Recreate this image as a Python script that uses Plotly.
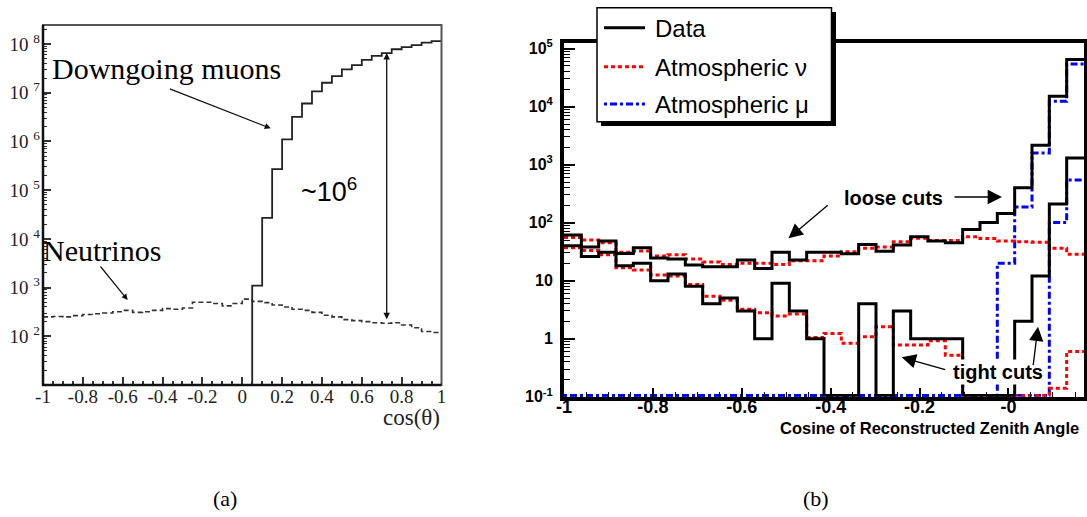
import math
import plotly.graph_objects as go

W, H = 1087, 517

# ---------------- Panel (a) data ----------------
a_edges = [round(-1 + 0.05 * i, 2) for i in range(41)]
a_muons = [0] * 21 + [1.1e3, 2.7e4, 2.7e5, 1.1e6, 3.2e6, 6.0e6, 1.07e7, 1.6e7, 2.2e7, 3.0e7,
                      3.7e7, 4.7e7, 5.7e7, 6.5e7, 7.8e7, 8.6e7, 9.5e7, 1.07e8, 1.15e8]
a_neutrinos = [250, 255, 250, 265, 280, 290, 300, 320, 340, 310,
               320, 340, 370, 360, 380, 500, 500, 470, 420, 470,
               580, 520, 490, 440, 400, 360, 340, 310, 270, 250,
               220, 210, 200, 190, 185, 190, 170, 150, 125, 120]
a_xtick_vals = [-1, -0.8, -0.6, -0.4, -0.2, 0, 0.2, 0.4, 0.6, 0.8, 1]
a_xtick_text = ["-1", "-0.8", "-0.6", "-0.4", "-0.2", "0", "0.2", "0.4", "0.6", "0.8", "1"]
a_ytick_vals = [1e2, 1e3, 1e4, 1e5, 1e6, 1e7, 1e8]
a_ytick_text = ["10 <sup>2</sup>", "10 <sup>3</sup>", "10 <sup>4</sup>", "10 <sup>5</sup>",
                "10 <sup>6</sup>", "10 <sup>7</sup>", "10 <sup>8</sup>"]

# ---------------- Panel (b) data ----------------
b_edges = [round(-1 + 0.039 * i, 3) for i in range(31)]
b_data_loose = [61, 38, 48, 29.5, 37, 24.6, 23.5, 18.6, 17.4, 17.4,
                22.6, 16.2, 30.7, 22.6, 30.7, 30.7, 29, 42, 32, 41,
                57, 48, 45, 76, 100, 144, 400, 2150, 15000, 65000]
b_data_tight = [40, 26, 31, 18, 20, 10, 13, 8, 4, 5,
                3, 1, 9, 3, 1, 0, 0, 4, 0, 3,
                1, 1, 1, 0, 0, 0, 2, 12, 210, 1300]
b_nu_loose = [55.6, 50, 45, 31, 32.5, 26.5, 28, 23.5, 21, 19,
              20, 20, 19, 22, 22, 26.5, 31.5, 36, 38, 46.6,
              53.5, 49, 49, 57, 53, 48, 47, 46, 36, 28.6]
b_nu_tight = [37, 33, 28, 16.7, 15.2, 12.5, 12, 8.6, 5.4, 4.6,
              3.2, 2.8, 2.46, 2.65, 1.05, 1.23, 0.83, 1.08, 1.6, 0.78,
              0.78, 0.92, 0.52, 0, 0, 0, 0, 0, 0.14, 0.6]
b_mu_loose = [0] * 25 + [20, 186, 1580, 12300, 54000]
b_mu_tight = [0] * 28 + [100, 540]
b_xtick_vals = [-1, -0.8, -0.6, -0.4, -0.2, 0]
b_xtick_text = ["<b>-1</b>", "<b>-0.8</b>", "<b>-0.6</b>", "<b>-0.4</b>", "<b>-0.2</b>", "<b>-0</b>"]
b_ytick_vals = [1e-1, 1, 10, 1e2, 1e3, 1e4, 1e5]
b_ytick_text = ["<b>10<sup>-1</sup></b>", "<b>1</b>", "<b>10</b>", "<b>10<sup>2</sup></b>",
                "<b>10<sup>3</sup></b>", "<b>10<sup>4</sup></b>", "<b>10<sup>5</sup></b>"]
legend_labels = ["Data", "Atmospheric \u03bd", "Atmospheric \u03bc"]

SERIF = "Liberation Serif, Times New Roman, serif"
SANS = "Liberation Sans, Arial, sans-serif"

A_FLOOR = 1.0      # zero bins in (a) fall below the axis
B_FLOOR = 0.105    # zero bins in (b) drawn on the bottom axis (ROOT style)


def px(x):
    return x / W


def py(y):
    return 1 - y / H


def step(edges, counts, floor):
    vals = [c if c > 0 else floor for c in counts]
    return list(edges), vals + [vals[-1]]


fig = go.Figure()

# Panel (a) traces
x, y = step(a_edges, a_neutrinos, A_FLOOR)
fig.add_trace(go.Scatter(x=x, y=y, mode="lines", line=dict(shape="hv", color="#333", width=1.6, dash="5px,3px"),
                         xaxis="x", yaxis="y", showlegend=False, hoverinfo="skip"))
x, y = step(a_edges, a_muons, A_FLOOR)
fig.add_trace(go.Scatter(x=x, y=y, mode="lines", line=dict(shape="hv", color="#222", width=1.8),
                         xaxis="x", yaxis="y", showlegend=False, hoverinfo="skip"))

# Panel (b) traces
RED_DASH = "4px,3px"
BLUE_DASH = "3px,3px,7px,3px"
series_b = [
    (b_mu_loose, "#0000ff", BLUE_DASH),
    (b_mu_tight, "#0000ff", BLUE_DASH),
    (b_nu_loose, "#ff0000", RED_DASH),
    (b_nu_tight, "#ff0000", RED_DASH),
    (b_data_loose, "#000000", None),
    (b_data_tight, "#000000", None),
]
for counts, col, dash in series_b:
    x, y = step(b_edges, counts, B_FLOOR)
    ln = dict(shape="hv", color=col, width=3)
    if dash:
        ln["dash"] = dash
    fig.add_trace(go.Scatter(x=x, y=y, mode="lines", line=ln, xaxis="x2", yaxis="y2",
                             showlegend=False, hoverinfo="skip"))

a_minor_y = [m * 10 ** e for e in range(1, 9) for m in range(2, 10)]
b_minor_y = [m * 10 ** e for e in range(-1, 5) for m in range(2, 10)]

fig.update_layout(
    template="none",
    width=W, height=H,
    margin=dict(l=0, r=0, t=0, b=0, pad=0, autoexpand=False),
    paper_bgcolor="white", plot_bgcolor="white",
    showlegend=False,
    xaxis=dict(domain=[px(43), px(441.5)], range=[-1, 1], anchor="y", automargin=False,
               tickmode="array", tickvals=a_xtick_vals, ticktext=a_xtick_text,
               ticks="inside", ticklen=8, tickwidth=1.5, tickcolor="#333",
               minor=dict(tickmode="linear", tick0=-1, dtick=0.05, ticks="inside", ticklen=4,
                          tickwidth=1.5, tickcolor="#333", showgrid=False),
               showline=False, showgrid=False, zeroline=False,
               tickfont=dict(family=SERIF, size=19, color="#222"), ticklabelstandoff=-2),
    yaxis=dict(domain=[py(385), py(25)], type="log", range=[1, 8.39], anchor="x", automargin=False,
               tickmode="array", tickvals=a_ytick_vals, ticktext=a_ytick_text,
               ticks="inside", ticklen=8, tickwidth=1.5, tickcolor="#333",
               minor=dict(tickmode="array", tickvals=a_minor_y, ticks="inside", ticklen=4,
                          tickwidth=1.2, tickcolor="#333", showgrid=False),
               showline=False, showgrid=False, zeroline=False,
               tickfont=dict(family=SERIF, size=19, color="#222"), ticklabelstandoff=2),
    xaxis2=dict(domain=[px(564), px(1084)], range=[-1, 0.17], anchor="y2", automargin=False,
                tickmode="array", tickvals=b_xtick_vals, ticktext=b_xtick_text,
                ticks="inside", ticklen=9, tickwidth=1.5, tickcolor="black",
                minor=dict(tickmode="linear", tick0=-1, dtick=0.05, ticks="inside", ticklen=5,
                           tickwidth=1.2, tickcolor="black", showgrid=False),
                showline=True, linewidth=4, linecolor="black", mirror=True,
                showgrid=False, zeroline=False,
                tickfont=dict(family=SANS, size=18, color="black"), ticklabelstandoff=-9),
    yaxis2=dict(domain=[py(396.7), py(43.3)], type="log", range=[-1, 5.09], anchor="x2", automargin=False,
                tickmode="array", tickvals=b_ytick_vals, ticktext=b_ytick_text,
                ticks="inside", ticklen=11, tickwidth=1.5, tickcolor="black",
                minor=dict(tickmode="array", tickvals=b_minor_y, ticks="inside", ticklen=6,
                           tickwidth=1.2, tickcolor="black", showgrid=False),
                showline=True, linewidth=4, linecolor="black", mirror=True,
                showgrid=False, zeroline=False,
                tickfont=dict(family=SANS, size=16, color="black"), ticklabelstandoff=4),
)

shapes = []
# Panel (a) frame: gray top/right, black left/bottom
shapes.append(dict(type="rect", xref="paper", yref="paper", x0=px(43), x1=px(441.5), y0=py(385), y1=py(25),
                   line=dict(color="#555", width=2), fillcolor="rgba(0,0,0,0)"))
shapes.append(dict(type="line", xref="paper", yref="paper", x0=px(43), x1=px(43), y0=py(386), y1=py(25),
                   line=dict(color="#111", width=2.5)))
shapes.append(dict(type="line", xref="paper", yref="paper", x0=px(42), x1=px(441.5), y0=py(385), y1=py(385),
                   line=dict(color="#111", width=2.5)))

# Legend box for panel (b)
shapes.append(dict(type="rect", xref="paper", yref="paper", x0=px(601), x1=px(836), y0=py(126), y1=py(12),
                   line=dict(width=0), fillcolor="black"))
shapes.append(dict(type="rect", xref="paper", yref="paper", x0=px(597), x1=px(831.5), y0=py(121.7), y1=py(7.7),
                   line=dict(color="black", width=1.5), fillcolor="white"))
legend_rows = [(27.7, "black", None), (66.7, "#ff0000", RED_DASH), (104, "#0000ff", BLUE_DASH)]
for (yy, col, dash) in legend_rows:
    ln = dict(color=col, width=3)
    if dash:
        ln["dash"] = dash
    shapes.append(dict(type="line", xref="paper", yref="paper", x0=px(604), x1=px(645), y0=py(yy), y1=py(yy),
                       line=ln))

annotations = []
for (yy, _, _), lab in zip(legend_rows, legend_labels):
    annotations.append(dict(xref="paper", yref="paper", x=px(653), y=py(yy + 1), xanchor="left", yanchor="middle",
                            text=lab, showarrow=False, font=dict(family=SANS, size=24, color="black")))

# Panel (a) annotations
annotations += [
    dict(xref="paper", yref="paper", x=px(50), y=py(68), xanchor="left", yanchor="middle",
         text="Downgoing muons", showarrow=False, font=dict(family=SERIF, size=30, color="black")),
    dict(xref="paper", yref="paper", x=px(270.7), y=py(128.3), ax=-102.4, ay=-40, text="",
         showarrow=True, arrowhead=2, arrowsize=1, arrowwidth=1.2, arrowcolor="#111"),
    dict(xref="paper", yref="paper", x=px(41), y=py(250), xanchor="left", yanchor="middle",
         text="Neutrinos", showarrow=False, font=dict(family=SERIF, size=30, color="black")),
    dict(xref="paper", yref="paper", x=px(127.7), y=py(300), ax=-28.4, ay=-35, text="",
         showarrow=True, arrowhead=2, arrowsize=1, arrowwidth=1.2, arrowcolor="#111"),
    dict(xref="paper", yref="paper", x=px(299), y=py(190), xanchor="left", yanchor="middle",
         text="~10<sup>6</sup>", showarrow=False, font=dict(family=SANS, size=27, color="black")),
    dict(xref="x", yref="y", x=0.725, y=math.log10(a_muons[34]), axref="x", ayref="y",
         ax=0.725, ay=math.log10(a_neutrinos[34]) + 0.05, text="", showarrow=True,
         arrowside="end+start", arrowhead=2, arrowsize=1, arrowwidth=1.3, arrowcolor="#111"),
    dict(xref="paper", yref="paper", x=px(442), y=py(417), xanchor="right", yanchor="middle",
         text="cos(\u03b8)", showarrow=False, font=dict(family=SERIF, size=23, color="#222")),
    dict(xref="paper", yref="paper", x=px(225), y=py(498), xanchor="center", yanchor="middle",
         text="(a)", showarrow=False, font=dict(family=SERIF, size=22, color="black")),
    dict(xref="paper", yref="paper", x=px(816), y=py(498), xanchor="center", yanchor="middle",
         text="(b)", showarrow=False, font=dict(family=SERIF, size=22, color="black")),
]

# Panel (b) annotations
annotations += [
    dict(xref="paper", yref="paper", x=px(842), y=py(198), xanchor="left", yanchor="middle",
         text="<b>loose cuts</b>", showarrow=False, bgcolor="white",
         font=dict(family=SANS, size=20, color="black")),
    dict(xref="paper", yref="paper", x=px(1002), y=py(197), ax=-49, ay=0, text="",
         showarrow=True, arrowhead=2, arrowsize=2.2, arrowwidth=1.3, arrowcolor="black"),
    dict(xref="paper", yref="paper", x=px(788.5), y=py(238.3), ax=40.7, ay=-34.3, text="",
         showarrow=True, arrowhead=2, arrowsize=2.2, arrowwidth=1.3, arrowcolor="black"),
    dict(xref="paper", yref="paper", x=px(951), y=py(372), xanchor="left", yanchor="middle",
         text="<b>tight cuts</b>", showarrow=False, bgcolor="white",
         font=dict(family=SANS, size=20, color="black")),
    dict(xref="paper", yref="paper", x=px(901.7), y=py(357.3), ax=45, ay=12.7, text="",
         showarrow=True, arrowhead=2, arrowsize=2.2, arrowwidth=1.3, arrowcolor="black"),
    dict(xref="paper", yref="paper", x=px(1038), y=py(326.7), ax=-5, ay=40, text="",
         showarrow=True, arrowhead=2, arrowsize=2.2, arrowwidth=1.3, arrowcolor="black"),
    dict(xref="paper", yref="paper", x=px(778), y=py(427.5), xanchor="left", yanchor="middle",
         text="<b>Cosine of Reconstructed Zenith Angle</b>", showarrow=False,
         font=dict(family=SANS, size=16.5, color="black")),
]

fig.update_layout(shapes=shapes, annotations=annotations)
fig.write_html(
    "out.html",
    config={"displayModeBar": False},
    post_script="document.body.style.margin='0';document.body.style.overflow='hidden';",
)
